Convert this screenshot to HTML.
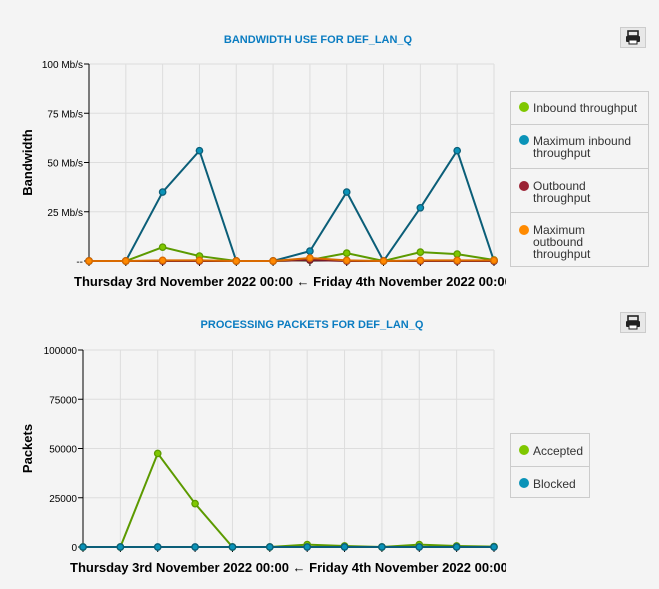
<!DOCTYPE html>
<html><head><meta charset="utf-8"><style>
body{margin:0;background:#f4f4f4;font-family:"Liberation Sans",sans-serif;}
#wrap{position:relative;width:659px;height:589px;overflow:hidden;background:#f4f4f4;}
svg{position:absolute;left:0;top:0;}
.legend{position:absolute;border:1px solid #ccc;background:#f4f4f4;font-size:12px;color:#333;}
.legend div{border-top:1px solid #ccc;padding:0 4px 0 22px;position:relative;box-sizing:border-box;line-height:12px;}
.legend div:first-child{border-top:none;}
.legend span{position:absolute;left:8px;width:10px;height:10px;border-radius:50%;}
.btn{position:absolute;width:26px;height:21px;border:1px solid #ccc;background:#e8e8e8;box-sizing:border-box;}
</style></head><body>
<div id="wrap">
<svg id="svg" width="659" height="589"></svg>
<div class="btn" style="left:620px;top:27px"><svg width="24" height="19" style="position:absolute;left:0;top:0"><rect x="7" y="3" width="10" height="5" fill="none" stroke="#222" stroke-width="1.6"/><rect x="5" y="8" width="14" height="6" rx="1" fill="#222"/><rect x="8" y="12" width="8" height="4" fill="#fff" stroke="#222"/></svg></div>
<div class="btn" style="left:620px;top:312px"><svg width="24" height="19" style="position:absolute;left:0;top:0"><rect x="7" y="3" width="10" height="5" fill="none" stroke="#222" stroke-width="1.6"/><rect x="5" y="8" width="14" height="6" rx="1" fill="#222"/><rect x="8" y="12" width="8" height="4" fill="#fff" stroke="#222"/></svg></div>
<div class="legend" style="left:510px;top:91px;width:139px;height:176px;box-sizing:border-box">
<div style="height:32px;padding-top:10px"><span style="background:#7fc700;top:10px"></span>Inbound throughput</div>
<div style="height:44px;padding-top:10px"><span style="background:#0a93b8;top:10px"></span>Maximum inbound throughput</div>
<div style="height:44px;padding-top:11px;padding-right:40px"><span style="background:#9b2335;top:12px"></span>Outbound throughput</div>
<div style="height:54px;padding-top:11px;padding-right:40px"><span style="background:#ff8a00;top:12px"></span>Maximum outbound throughput</div>
</div>
<div class="legend" style="left:510px;top:433px;width:80px;height:65px;box-sizing:border-box">
<div style="height:32px;padding-top:11px"><span style="background:#7fc700;top:11px"></span>Accepted</div>
<div style="height:32px;padding-top:11px"><span style="background:#0a93b8;top:11px"></span>Blocked</div>
</div>
</div>
<script>
const bwTicks=[0,25,50,75,100];
const bwTickLabels=["--","25 Mb/s","50 Mb/s","75 Mb/s","100 Mb/s"];
const bwInbound=[0,0,7,2.5,0,0,0.5,4,0,4.5,3.5,0.5];
const bwMaxInbound=[0,0,35,56,0,0,5,35,0,27,56,0];
const bwOutbound=[0,0,0,0,0,0,0.5,0,0,0,0,0];
const bwMaxOutbound=[0,0,0.3,0.3,0,0,1.5,0.3,0,0.3,0.3,0.3];
const pkTicks=[0,25000,50000,75000,100000];
const pkTickLabels=["0","25000","50000","75000","100000"];
const pkAccepted=[0,0,47500,22000,0,0,1200,500,0,1200,500,200];
const pkBlocked=[0,0,0,0,0,0,0,0,0,0,0,0];
const NS="http://www.w3.org/2000/svg";
const svg=document.getElementById('svg');
function mk(t,a,p){const e=document.createElementNS(NS,t);for(const k in a)e.setAttribute(k,a[k]);(p||svg).appendChild(e);return e;}
function chart(o){
  const g=mk('g',{});
  
  
  const n=o.series[0].v.length;
  const xs=i=>o.x0+(o.x1-o.x0)*i/(n-1);
  const ys=v=>o.y1-(o.y1-o.y0)*v/o.max;
  for(let i=0;i<n;i++){const l=mk('line',{x1:xs(i),x2:xs(i),y1:o.y0,y2:o.y1,stroke:'#ddd'},g);
    
    const t=mk('line',{x1:xs(i),x2:xs(i),y1:o.y1,y2:o.y1+5,stroke:'#000'},g);
    }
  o.ticks.forEach((v,k)=>{const y=ys(v);
    const l=mk('line',{x1:o.x0,x2:o.x1,y1:y,y2:y,stroke:'#ddd'},g);
    
    const tk=mk('line',{x1:o.x0-5,x2:o.x0,y1:y,y2:y,stroke:'#000'},g);
    
    const t=mk('text',{x:o.x0-6,y:y+4,'text-anchor':'end','font-size':10,fill:'#000'},g);t.textContent=o.labels[k];
    });
  const ax=mk('line',{x1:o.x0,x2:o.x0,y1:o.y0,y2:o.y1,stroke:'#000'},g);
  
  const bx=mk('line',{x1:o.x0,x2:o.x1,y1:o.y1,y2:o.y1,stroke:'#000'},g);
  
  o.series.forEach(s=>{
    const p=mk('polyline',{points:s.v.map((v,i)=>xs(i)+','+ys(v)).join(' '),fill:'none',stroke:s.line,'stroke-width':2},g);
    
    s.v.forEach((v,i)=>{const c=mk('circle',{cx:xs(i),cy:ys(v),r:3.2,fill:s.fill,stroke:s.line,'stroke-width':1.3},g);
      });
  });
  const tt=mk('text',{x:o.tx,y:o.ty,'text-anchor':'middle','font-size':11,'font-weight':'bold',fill:'#0a7cc1'},g);tt.textContent=o.title;
  
  const yt=mk('text',{x:0,y:0,transform:`translate(${o.yx},${(o.y0+o.y1)/2}) rotate(-90)`,'text-anchor':'middle','font-size':13,'font-weight':'bold',fill:'#000'},g);yt.textContent=o.ytitle;
  
  const xt=mk('text',{x:o.xlx,y:o.y1+25,'font-size':13,'font-weight':'bold',fill:'#000'},g);xt.textContent='Thursday 3rd November 2022 00:00 \u2190 Friday 4th November 2022 00:00';
  
}
chart({name:'bandwidth-chart',x0:89,x1:494,y0:64,y1:261,max:100,ticks:bwTicks,labels:bwTickLabels,title:'BANDWIDTH USE FOR DEF_LAN_Q',tx:318,ty:43,ytitle:'Bandwidth',yx:32,xlx:74,
  series:[{name:'max-inbound',v:bwMaxInbound,line:'#0b5e78',fill:'#0a93b8'},{name:'inbound',v:bwInbound,line:'#5c9a00',fill:'#7fc700'},{name:'outbound',v:bwOutbound,line:'#7a1a28',fill:'#9b2335'},{name:'max-outbound',v:bwMaxOutbound,line:'#d96a00',fill:'#ff8a00'}]});
chart({name:'packets-chart',x0:83,x1:494,y0:350,y1:547,max:100000,ticks:pkTicks,labels:pkTickLabels,title:'PROCESSING PACKETS FOR DEF_LAN_Q',tx:312,ty:328,ytitle:'Packets',yx:32,xlx:70,
  series:[{name:'accepted',v:pkAccepted,line:'#5c9a00',fill:'#7fc700'},{name:'blocked',v:pkBlocked,line:'#0b5e78',fill:'#0a93b8'}]});
</script>
<style>#wrap>svg#svg{clip-path:inset(0 153px 0 0)}</style>
</body></html>
